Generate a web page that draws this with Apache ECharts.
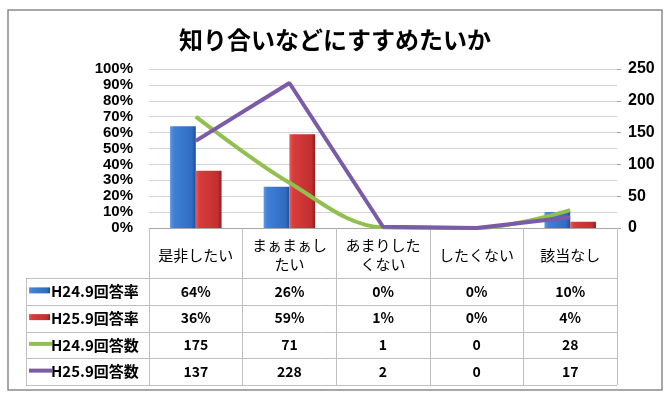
<!DOCTYPE html>
<html><head><meta charset="utf-8">
<script src="https://cdn.jsdelivr.net/npm/echarts@6/dist/echarts.min.js"></script>
<style>html,body{margin:0;padding:0;background:#fff}#c{width:670px;height:400px}</style>
</head><body><div id="c"></div>
<script>
const titleText = '知り合いなどにすすめたいか';
const categories = ['是非したい', 'まぁまぁしたい', 'あまりしたくない', 'したくない', '該当なし'];
const seriesNames = ['H24.9回答率', 'H25.9回答率', 'H24.9回答数', 'H25.9回答数'];
const rate24 = [64, 26, 0, 0, 10];
const rate25 = [36, 59, 1, 0, 4];
const count24 = [175, 71, 1, 0, 28];
const count25 = [137, 228, 2, 0, 17];
const leftTicks = [0, 10, 20, 30, 40, 50, 60, 70, 80, 90, 100];
const rightTicks = [0, 50, 100, 150, 200, 250];

const FONT = '"Noto Sans CJK JP", "Liberation Sans", sans-serif';
const AXF = '"Liberation Sans", Arial, sans-serif';
const G = {left: 149, right: 53, top: 69, bottom: 172};
const rowTop = 278, rowH = 26.75, tableLeft = 26;
const colors = {
  blue: new echarts.graphic.LinearGradient(0, 0, 1, 0, [
    {offset: 0, color: '#5b9ae6'}, {offset: 0.15, color: '#3f80d6'}, {offset: 0.85, color: '#2f6cc2'}, {offset: 1, color: '#1f4f96'}]),
  red: new echarts.graphic.LinearGradient(0, 0, 1, 0, [
    {offset: 0, color: '#e85a5a'}, {offset: 0.15, color: '#d63c3c'}, {offset: 0.85, color: '#c22f2f'}, {offset: 1, color: '#8f1f1f'}]),
  green: '#92c050',
  purple: '#7b5aa7'
};

const chart = echarts.init(document.getElementById('c'), null, {renderer: 'canvas'});
const option = {
  backgroundColor: '#fff',
  animation: false,
  title: {
    text: titleText, left: 'center', top: 23,
    textStyle: {fontFamily: FONT, fontWeight: 'bold', fontSize: 24, color: '#000'}
  },
  grid: G,
  xAxis: {
    type: 'category', data: categories,
    axisLine: {lineStyle: {color: '#a6a6a6', width: 1}},
    axisTick: {show: true, length: 157, lineStyle: {color: '#bfbfbf'}},
    axisLabel: {
      margin: 27, verticalAlign: 'middle', fontFamily: FONT, fontSize: 15, color: '#000',
      lineHeight: 19, width: 80, overflow: 'break', interval: 0
    }
  },
  yAxis: [
    {
      type: 'value', min: 0, max: 100, interval: 10,
      axisLine: {show: false}, axisTick: {show: false},
      splitLine: {lineStyle: {color: '#d4d4d4'}},
      axisLabel: {margin: 16, fontFamily: AXF, fontWeight: 'bold', fontSize: 15, color: '#000',
        formatter: v => leftTicks.includes(v) ? v + '%' : ''}
    },
    {
      type: 'value', min: 0, max: 250, interval: 50,
      axisLine: {show: false},
      axisTick: {show: true, length: 4, lineStyle: {color: '#a6a6a6'}},
      splitLine: {show: false},
      axisLabel: {margin: 11, fontFamily: AXF, fontWeight: 'bold', fontSize: 16, color: '#000',
        formatter: v => rightTicks.includes(v) ? String(v) : ''}
    }
  ],
  series: [
    {name: seriesNames[0], type: 'bar', data: rate24, yAxisIndex: 0, barGap: '0%', barCategoryGap: '45%',
      itemStyle: {color: colors.blue}},
    {name: seriesNames[1], type: 'bar', data: rate25, yAxisIndex: 0, barGap: '0%', barCategoryGap: '45%',
      itemStyle: {color: colors.red}},
    {name: seriesNames[2], type: 'line', data: count24, yAxisIndex: 1, smooth: 0.35, showSymbol: false, symbol: 'none',
      lineStyle: {color: colors.green, width: 4}, itemStyle: {color: colors.green}, z: 3},
    {name: seriesNames[3], type: 'line', data: count25, yAxisIndex: 1, smooth: false, showSymbol: false, symbol: 'none',
      lineStyle: {color: colors.purple, width: 4}, itemStyle: {color: colors.purple}, z: 4}
  ]
};
chart.setOption(option);

// Build data table below the axis from the same arrays
const tableRows = [
  {name: seriesNames[0], vals: rate24.map(v => v + '%'), key: 'bar', color: colors.blue},
  {name: seriesNames[1], vals: rate25.map(v => v + '%'), key: 'bar', color: colors.red},
  {name: seriesNames[2], vals: count24.map(String), key: 'line', color: colors.green},
  {name: seriesNames[3], vals: count25.map(String), key: 'line', color: colors.purple}
];
const gridRight = 670 - G.right;
const els = [];
els.push({type: 'rect', shape: {x: 8, y: 10, width: 654, height: 380}, style: {fill: null, stroke: '#8a8a8a', lineWidth: 1.5}, z: 10});
for (let r = 0; r <= tableRows.length; r++) {
  const y = Math.round(rowTop + r * rowH) + 0.5;
  els.push({type: 'line', shape: {x1: tableLeft, y1: y, x2: gridRight, y2: y}, style: {stroke: '#bfbfbf', lineWidth: 1}});
}
els.push({type: 'line', shape: {x1: tableLeft + 0.5, y1: rowTop, x2: tableLeft + 0.5, y2: rowTop + rowH * 4}, style: {stroke: '#bfbfbf', lineWidth: 1}});
tableRows.forEach((row, r) => {
  const cy = rowTop + (r + 0.5) * rowH;
  if (row.key === 'bar') {
    els.push({type: 'rect', shape: {x: 29, y: cy - 4, width: 21, height: 6}, style: {fill: row.color}});
  } else {
    els.push({type: 'line', shape: {x1: 29, y1: cy - 1, x2: 52, y2: cy - 1}, style: {stroke: row.color, lineWidth: 4}});
  }
  els.push({type: 'text', x: 51, y: cy, style: {text: row.name, fontFamily: FONT, fontWeight: 'bold', fontSize: 15, fill: '#000', verticalAlign: 'middle', align: 'left'}});
  row.vals.forEach((v, i) => {
    const px = chart.convertToPixel({xAxisIndex: 0}, i);
    els.push({type: 'text', x: px, y: cy, style: {text: v, fontFamily: FONT, fontWeight: 'bold', fontSize: 14, fill: '#000', verticalAlign: 'middle', align: 'center'}});
  });
});
chart.setOption({graphic: els});
</script>
</body></html>
